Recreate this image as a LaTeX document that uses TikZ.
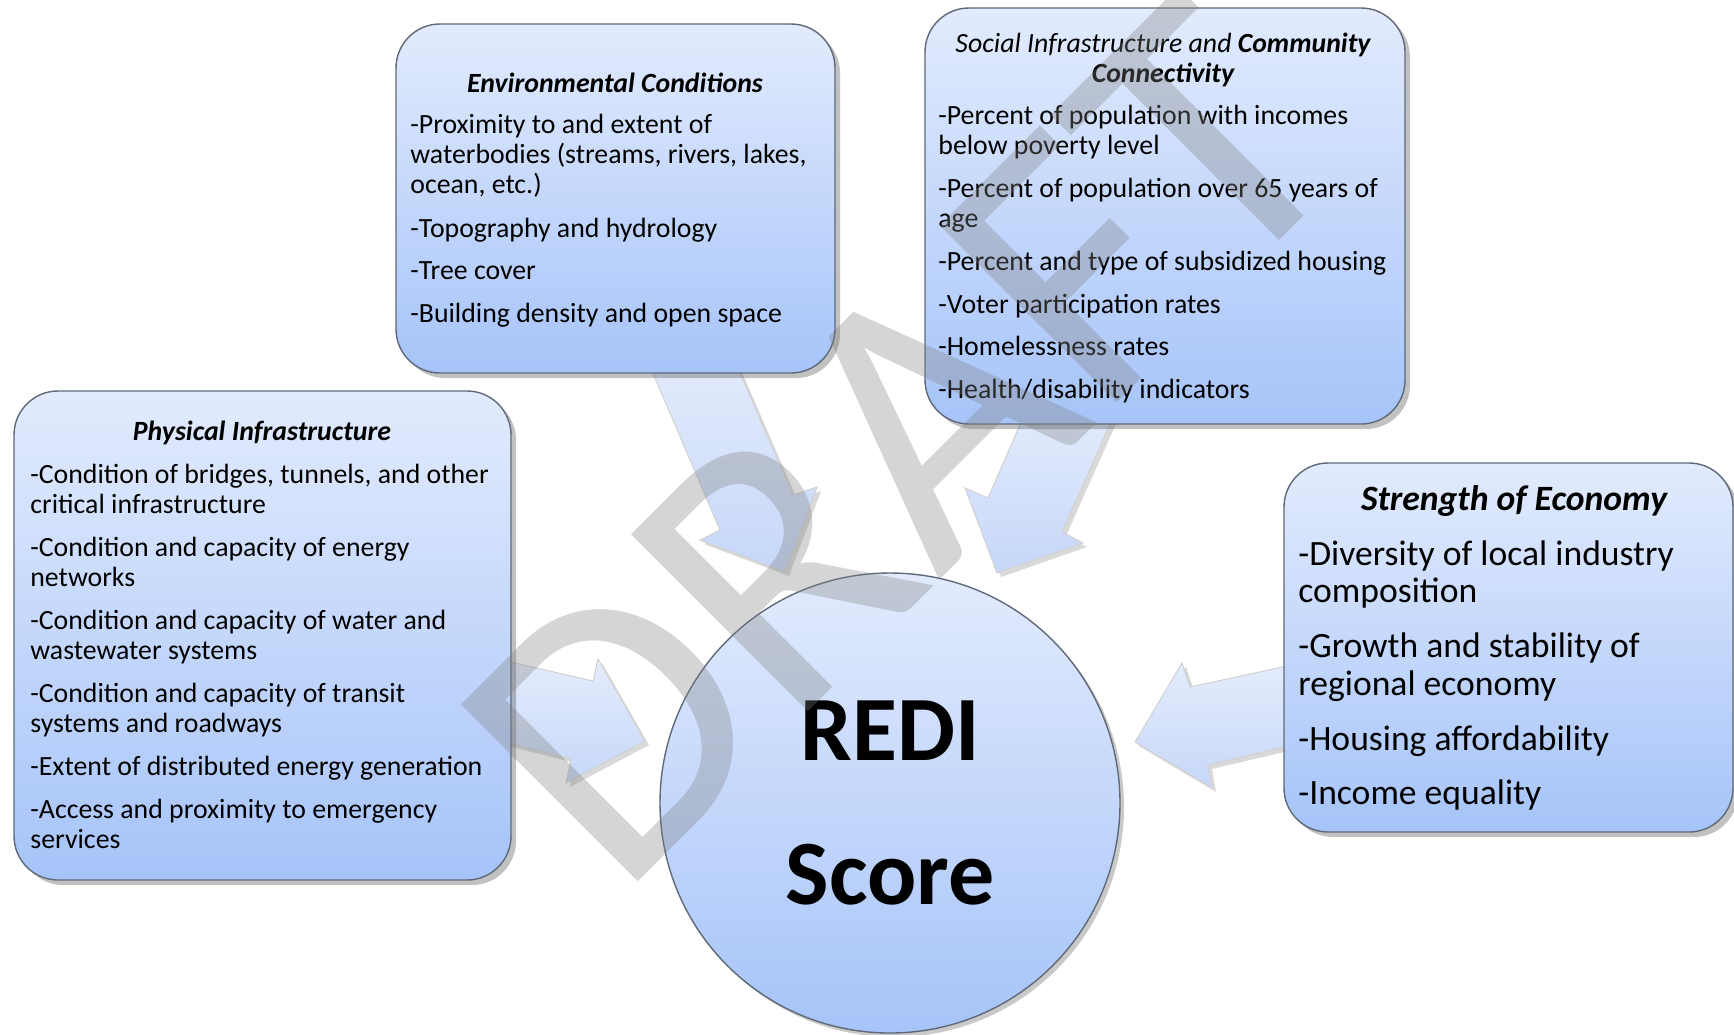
\documentclass[tikz,border=0pt]{standalone}
\usepackage{fontspec}
\setmainfont{Carlito}
\usetikzlibrary{shadows}
\definecolor{boxtop}{RGB}{226,235,253}
\definecolor{boxbot}{RGB}{166,196,249}
\definecolor{boxline}{RGB}{95,105,120}
\definecolor{arrtop}{RGB}{229,237,253}
\definecolor{arrbot}{RGB}{198,215,248}
\begin{document}
\begin{tikzpicture}[x=0.5pt,y=-0.5pt,
  box/.style={rectangle, rounded corners=22pt, draw=boxline, line width=0.7pt,
    top color=boxtop, bottom color=boxbot, inner sep=0pt,
    drop shadow={shadow xshift=2.5pt, shadow yshift=-2.5pt, opacity=0.35, fill=black!70}},
  blockarrow/.style={draw=black!18, line width=0.5pt, top color=arrtop, bottom color=arrbot,
    drop shadow={shadow xshift=2pt, shadow yshift=-2pt, opacity=0.25, fill=black!60}},
  ttl/.style={align=center, inner sep=0pt, font=\fontsize{13.9}{15}\selectfont\bfseries\itshape},
  body/.style={anchor=north west, align=left, inner sep=0pt, font=\fontsize{13.9}{15}\selectfont},
]
\useasboundingbox (0,0) rectangle (1734,1034);
\clip (0,0) rectangle (1734,1034);

% block arrows (drawn first, under the boxes)
\path[blockarrow] (640,343) -- (720,530) -- (700,540) -- (785,572) -- (817,487) -- (793,495) -- (727,343) -- cycle;
\path[blockarrow] (1033,395) -- (988,498) -- (965,488) -- (997,573) -- (1083,543) -- (1062,532) -- (1123,395) -- cycle;
\path[blockarrow] (480,655) -- (593,681) -- (598,659) -- (645,741) -- (566,783) -- (571,759) -- (480,736) -- cycle;
\path[blockarrow] (1310,661) -- (1190,687) -- (1182,663) -- (1135,742) -- (1212,788) -- (1208,765) -- (1310,741) -- cycle;

% boxes
\node[box, minimum width=219.5pt, minimum height=174.5pt] (envbox) at (615.5,198.5) {};
\node[box, minimum width=240pt, minimum height=208pt] (socbox) at (1165,216) {};
\node[box, minimum width=248.5pt, minimum height=244.5pt] (phybox) at (262.5,635.5) {};
\node[box, minimum width=224.5pt, minimum height=184.5pt] (strbox) at (1508.5,647.5) {};

% central circle
\node[circle, draw=boxline, line width=0.7pt, top color=boxtop, bottom color=boxbot,
  minimum size=230pt, inner sep=0pt, align=center,
  font=\fontsize{46}{72}\selectfont\bfseries,
  drop shadow={shadow xshift=2pt, shadow yshift=-2pt, opacity=0.3, fill=black!70}]
  (redi) at (890,803) {REDI\\Score};

% texts
\node[ttl] (envtitle) at (615,83) {Environmental Conditions};
\node[body] (envtext) at (410,114) {-Proximity to and extent of\\
waterbodies (streams, rivers, lakes,\\
ocean, etc.)\\[6.8pt]
-Topography and hydrology\\[6.3pt]
-Tree cover\\[6.3pt]
-Building density and open space};

\node[ttl] (soctitle) at (1163,60) {\textmd{Social Infrastructure and} Community\\Connectivity};
\node[body] (soctext) at (938,105) {-Percent of population with incomes\\
below poverty level\\[6.5pt]
-Percent of population over 65 years of\\
age\\[6.5pt]
-Percent and type of subsidized housing\\[6.3pt]
-Voter participation rates\\[6.3pt]
-Homelessness rates\\[6.5pt]
-Health/disability indicators};

\node[ttl] (phytitle) at (262,433) {Physical Infrastructure};
\node[body] (phytext) at (30,464) {-Condition of bridges, tunnels, and other\\
critical infrastructure\\[6.5pt]
-Condition and capacity of energy\\
networks\\[6.5pt]
-Condition and capacity of water and\\
wastewater systems\\[6.5pt]
-Condition and capacity of transit\\
systems and roadways\\[6.5pt]
-Extent of distributed energy generation\\[6.5pt]
-Access and proximity to emergency\\
services};

\node[ttl, font=\fontsize{17.8}{18.75}\selectfont\bfseries\itshape] (strtitle) at (1514,501) {Strength of Economy};
\node[body, font=\fontsize{17.8}{18.75}\selectfont] (strtext) at (1298,540) {-Diversity of local industry\\
composition\\[8.75pt]
-Growth and stability of\\
regional economy\\[8.75pt]
-Housing affordability\\[8.5pt]
-Income equality};

% watermark
\node[rotate=45, anchor=base west, inner sep=0pt, text=black!50, opacity=0.33,
  font=\fontsize{195}{195}\selectfont] (draft) at (619,901) {DRAFT};
\end{tikzpicture}
\end{document}
